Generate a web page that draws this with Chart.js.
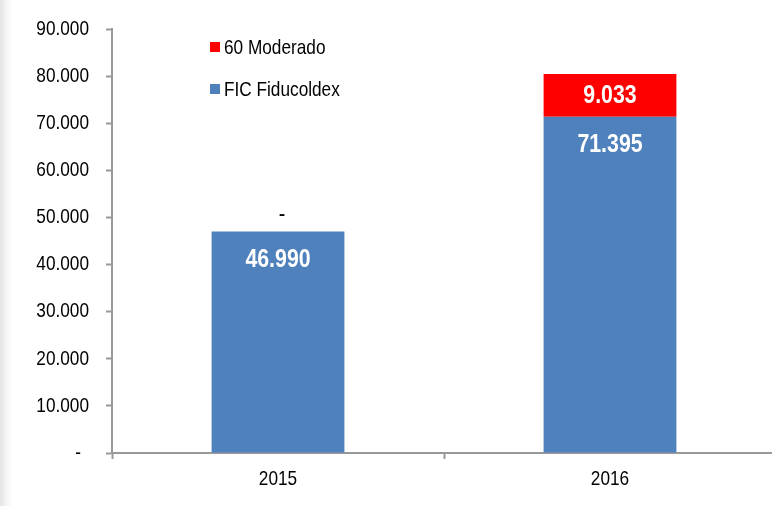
<!DOCTYPE html>
<html>
<head>
<meta charset="utf-8">
<script src="https://cdn.jsdelivr.net/npm/chart.js@4.4.1/dist/chart.umd.min.js"></script>
<style>
  html, body {
    margin: 0;
    padding: 0;
    overflow: hidden;
    background: linear-gradient(to right, #e4e4e4 0px, #f6f6f6 7px, #ffffff 13px);
  }
  #wrap {
    position: relative;
    width: 776px;
    height: 506px;
  }
</style>
</head>
<body>
<div id="wrap"><canvas id="chart"></canvas></div>
<script>
// data
var years = ["2015", "2016"];
var fic_fiducoldex = [46990, 71395];
var moderado_60 = [0, 9033];
var series_names = ["FIC Fiducoldex", "60 Moderado"];
var y_ticks = [0, 10000, 20000, 30000, 40000, 50000, 60000, 70000, 80000, 90000];

var blue = "#4F81BD";
var red = "#FF0000";
var axisGray = "#999999";
var SQUEEZE = 0.82; // no Arial Narrow here, so squeeze Liberation Sans

function fmt(v) {
    if (v === 0) return "-";
    return v.toLocaleString("de-DE");
}

function narrowText(ctx, text, x, y, align, font, color) {
    ctx.save();
    ctx.font = font;
    ctx.fillStyle = color;
    ctx.textAlign = align;
    ctx.textBaseline = "middle";
    ctx.translate(x, y);
    ctx.scale(SQUEEZE, 1);
    ctx.fillText(text, 0, 0);
    ctx.restore();
}

// axis labels, drawn narrow
var axisLabels = {
    id: "axisLabels",
    afterDraw: function (chart) {
        var ctx = chart.ctx;
        var ys = chart.scales.y;
        var xs = chart.scales.x;
        ys.ticks.forEach(function (t) {
            // accounting format: the dash sits a bit left of the numbers
            var right = t.value === 0 ? 81 : 89;
            narrowText(ctx, fmt(t.value), right, ys.getPixelForValue(t.value), "right",
                "21px 'Liberation Sans'", "#000");
        });
        xs.ticks.forEach(function (t, i) {
            narrowText(ctx, chart.data.labels[i], xs.getPixelForTick(i), xs.top + 26, "center",
                "21px 'Liberation Sans'", "#000");
        });
    }
};

// labels on the bars
var barLabels = {
    id: "barLabels",
    afterDatasetsDraw: function (chart) {
        var ctx = chart.ctx;
        chart.data.datasets.forEach(function (ds, i) {
            var meta = chart.getDatasetMeta(i);
            meta.data.forEach(function (bar, j) {
                var v = ds.data[j];
                if (v === 0) {
                    narrowText(ctx, "-", bar.x + 4, bar.y - 17, "center", "24px 'Liberation Sans'", "#000");
                    return;
                }
                var y = i === 0 ? bar.y + 28 : (bar.y + bar.base) / 2;
                narrowText(ctx, fmt(v), bar.x, y, "center", "bold 26px 'Liberation Sans'", "#fff");
            });
        });
    }
};

// legend inside the plot, red entry on top
var innerLegend = {
    id: "innerLegend",
    afterDraw: function (chart) {
        var ctx = chart.ctx;
        var items = [
            { name: chart.data.datasets[1].label, color: chart.data.datasets[1].backgroundColor, y: 47 },
            { name: chart.data.datasets[0].label, color: chart.data.datasets[0].backgroundColor, y: 89 }
        ];
        ctx.save();
        items.forEach(function (it) {
            ctx.fillStyle = it.color;
            ctx.fillRect(210, it.y - 5, 10, 10);
        });
        ctx.restore();
        items.forEach(function (it) {
            narrowText(ctx, it.name, 224, it.y + 1, "left", "21px 'Liberation Sans'", "#000");
        });
    }
};

new Chart(document.getElementById("chart").getContext("2d"), {
    type: "bar",
    data: {
        labels: years,
        datasets: [
            {
                label: series_names[0],
                data: fic_fiducoldex,
                backgroundColor: blue,
                barPercentage: 0.8,
                categoryPercentage: 0.5
            },
            {
                label: series_names[1],
                data: moderado_60,
                backgroundColor: red,
                barPercentage: 0.8,
                categoryPercentage: 0.5
            }
        ]
    },
    options: {
        responsive: true,
        maintainAspectRatio: false,
        animation: false,
        layout: { padding: { top: 29, right: 0, left: 0, bottom: 0 } },
        plugins: {
            legend: { display: false },
            tooltip: { enabled: false }
        },
        scales: {
            x: {
                stacked: true,
                afterFit: function (s) { s.height = 53; },
                grid: {
                    drawOnChartArea: false,
                    drawTicks: true,
                    tickLength: 6,
                    tickColor: axisGray,
                    tickWidth: 2,
                    offset: true
                },
                border: { color: axisGray, width: 2 },
                ticks: { display: false }
            },
            y: {
                stacked: true,
                min: 0,
                max: 90000,
                afterFit: function (s) { s.width = 112; },
                afterBuildTicks: function (s) {
                    s.ticks = y_ticks.map(function (v) { return { value: v }; });
                },
                grid: {
                    drawOnChartArea: false,
                    drawTicks: true,
                    tickLength: 6,
                    tickColor: axisGray,
                    tickWidth: 2
                },
                border: { color: axisGray, width: 2 },
                ticks: { display: false }
            }
        }
    },
    plugins: [barLabels, innerLegend, axisLabels]
});
</script>
</body>
</html>
